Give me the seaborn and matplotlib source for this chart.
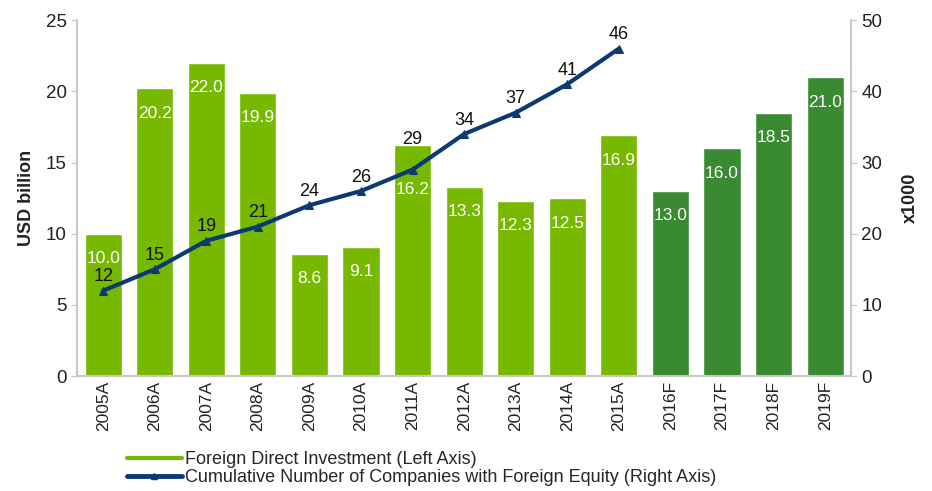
import numpy as np
import matplotlib
matplotlib.use("Agg")
import matplotlib.pyplot as plt
from matplotlib.lines import Line2D
import seaborn as sns
import pandas as pd

years = ['2005A', '2006A', '2007A', '2008A', '2009A', '2010A', '2011A', '2012A',
         '2013A', '2014A', '2015A', '2016F', '2017F', '2018F', '2019F']
fdi = [10.0, 20.2, 22.0, 19.9, 8.6, 9.1, 16.2, 13.3, 12.3, 12.5, 16.9, 13.0, 16.0, 18.5, 21.0]
kind = ['A'] * 11 + ['F'] * 4
companies = [12, 15, 19, 21, 24, 26, 29, 34, 37, 41, 46]

light_green = '#77b900'
dark_green = '#3a8a32'
navy = '#0b3a72'
grey = '#c8c8c8'

sns.set_style('white')
plt.rcParams['font.family'] = ['Liberation Sans', 'DejaVu Sans']

df = pd.DataFrame({'year': years, 'fdi': fdi, 'kind': kind})

fig = plt.figure(figsize=(9.32, 4.91), dpi=100)
ax = fig.add_axes([0.083, 0.234, 0.83, 0.725])

sns.barplot(data=df, x='year', y='fdi', hue='kind', dodge=False, legend=False,
            palette={'A': light_green, 'F': dark_green}, width=0.72, ax=ax,
            saturation=1)
ax.set_xlim(-0.5, len(years) - 0.5)
ax.set_ylim(0, 25)
ax.set_yticks(np.arange(0, 26, 5))
ax.set_xlabel('')
ax.set_ylabel('USD billion', fontsize=13, fontweight='bold', color='#222222', labelpad=8)
ax.tick_params(axis='x', labelrotation=90, labelsize=12.5, colors='#222222', length=0)
ax.tick_params(axis='y', labelsize=13.5, colors='#222222', length=4, color=grey)
ax.set_xticks(np.arange(len(years)))
ax.set_xticklabels(years, rotation=90)
ax.set_xticks(np.arange(-0.5, len(years), 1), minor=True)
ax.tick_params(axis='x', which='minor', length=4, color=grey)

# bar labels sit inside the bar top; 2011A is pushed lower to clear the line
for i, v in enumerate(fdi):
    off = -32 if years[i] == '2011A' else -18
    ax.annotate(f'{v:.1f}', (i, v), xytext=(0, off), textcoords='offset points',
                ha='center', va='center', color='white', fontsize=12.5)

ax2 = ax.twinx()
xs = np.arange(len(companies))
sns.lineplot(x=xs, y=companies, ax=ax2, color=navy, linewidth=3, marker='^',
             markersize=6, markeredgecolor=navy)
ax2.set_ylim(0, 50)
ax2.set_yticks(np.arange(0, 51, 10))
ax2.set_ylabel('x1000', fontsize=13, fontweight='bold', color='#222222', labelpad=14)
ax2.tick_params(axis='y', labelsize=13.5, colors='#222222', length=4, color=grey)
for i, v in enumerate(companies):
    off = 22 if v == 29 else 10
    ax2.annotate(str(v), (i, v), xytext=(0, off), textcoords='offset points',
                 ha='center', va='center', color='#111111', fontsize=13)

for a in (ax, ax2):
    a.spines['top'].set_visible(False)
    for s in ('left', 'right', 'bottom'):
        a.spines[s].set_color(grey)
        a.spines[s].set_linewidth(1.5)
ax.spines['right'].set_visible(False)
ax2.spines['left'].set_visible(False)
ax2.spines['bottom'].set_visible(False)

handles = [Line2D([0], [0], color=light_green, lw=3),
           Line2D([0], [0], color=navy, lw=3.5, marker='^', markersize=5)]
labels = ['Foreign Direct Investment (Left Axis)',
          'Cumulative Number of Companies with Foreign Equity (Right Axis)']
fig.legend(handles, labels, loc='lower left', bbox_to_anchor=(0.125, -0.012),
           frameon=False, fontsize=13, handlelength=3.0, handletextpad=0.2,
           labelspacing=0.05, borderaxespad=0.2)

fig.savefig('out.png', dpi=100)
